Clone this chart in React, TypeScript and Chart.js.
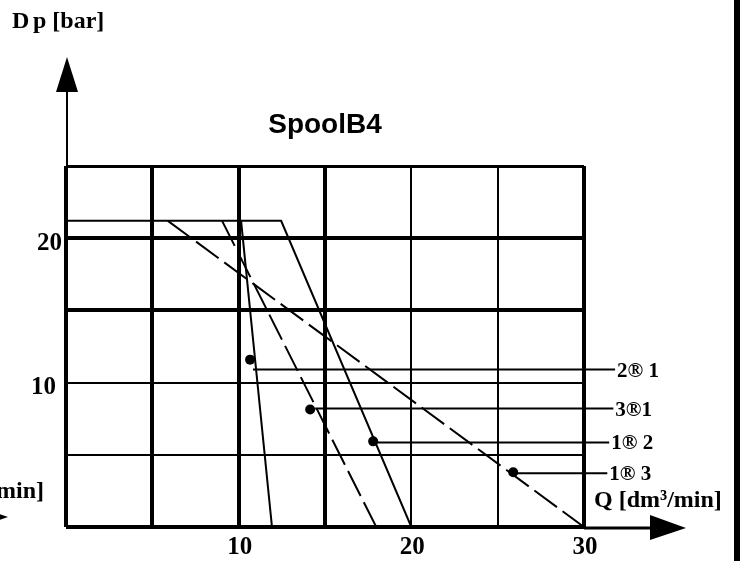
import React, { useEffect, useRef } from "react";
import { Chart, registerables } from "chart.js";

Chart.register(...registerables);

// ---- data (Q in dm3/min, Dp in bar) ----
const curve12X = [0, 12.46, 20];
const curve12Y = [21.2, 21.2, 0];
const curve21X = [10.14, 11.93];
const curve21Y = [21.2, 0];
const curve31X = [9.04, 17.97];
const curve31Y = [21.2, 0];
const curve13X = [5.9, 30];
const curve13Y = [21.2, 0];

const dotX = [10.66, 14.14, 17.79, 25.9];
const dotY = [11.59, 8.14, 5.93, 3.79];

const leaderStartX = [10.83, 14.43, 17.9, 26.0];
const leaderEndX = [31.8, 31.7, 31.46, 31.35];
const leaderY = [10.9, 8.2, 5.86, 3.72];
const leaderLabels = ["2\u00AE 1", "3\u00AE1", "1\u00AE 2", "1\u00AE 3"];

const xTickValues = [10, 20, 30];
const yTickValues = [10, 20];

const xGridWidths: Record<number, number> = { 0: 4, 5: 4, 10: 4, 15: 4, 20: 2, 25: 2, 30: 4 };
const yGridWidths: Record<number, number> = { 0: 4, 5: 2, 10: 2, 15: 4, 20: 4, 25: 3 };

const pts = (xs: number[], ys: number[]) => xs.map((x, i) => ({ x, y: ys[i] }));

const serif = "'Liberation Serif', 'Times New Roman', serif";

const overlayPlugin = {
  id: "overlay",
  afterDraw(chart: any) {
    const ctx = chart.ctx as CanvasRenderingContext2D;
    const xs = chart.scales.x;
    const ys = chart.scales.y;
    const x0 = xs.getPixelForValue(0);
    const x30 = xs.getPixelForValue(30);
    const y0 = ys.getPixelForValue(0);
    const yTop = ys.getPixelForValue(25);
    ctx.save();
    ctx.fillStyle = "#000";
    ctx.strokeStyle = "#000";

    // y axis extension + arrow
    ctx.lineWidth = 2;
    ctx.beginPath();
    ctx.moveTo(x0 + 1, yTop);
    ctx.lineTo(x0 + 1, yTop - 76);
    ctx.stroke();
    ctx.beginPath();
    ctx.moveTo(x0 + 1, yTop - 109);
    ctx.lineTo(x0 - 10, yTop - 74);
    ctx.lineTo(x0 + 12, yTop - 74);
    ctx.closePath();
    ctx.fill();

    // x axis extension + arrow
    ctx.lineWidth = 3;
    ctx.beginPath();
    ctx.moveTo(x30, y0 + 1);
    ctx.lineTo(x30 + 70, y0 + 1);
    ctx.stroke();
    ctx.beginPath();
    ctx.moveTo(x30 + 102, y0 + 1);
    ctx.lineTo(x30 + 66, y0 - 12);
    ctx.lineTo(x30 + 66, y0 + 13);
    ctx.closePath();
    ctx.fill();

    // fragment of neighbouring figure on the left
    ctx.beginPath();
    ctx.moveTo(8, y0 - 10);
    ctx.lineTo(-6, y0 - 15);
    ctx.lineTo(-6, y0 - 5);
    ctx.closePath();
    ctx.fill();

    // title
    ctx.font = "bold 28px 'Liberation Sans', Arial, sans-serif";
    ctx.textAlign = "center";
    ctx.textBaseline = "alphabetic";
    ctx.fillText("SpoolB4", (x0 + x30) / 2, 133);

    // axis titles
    ctx.font = `bold 24px ${serif}`;
    ctx.textAlign = "left";
    ctx.fillText("D", 12, 28);
    ctx.fillText("p [bar]", 33, 28);
    ctx.fillText("Q [dm\u00B3/min]", 594, 507);
    ctx.textAlign = "right";
    ctx.fillText("min]", 44, 498);

    // tick labels
    ctx.font = `bold 25px ${serif}`;
    ctx.textAlign = "center";
    xTickValues.forEach((v) => {
      ctx.fillText(String(v), xs.getPixelForValue(v) + 1, 554);
    });
    ctx.textAlign = "right";
    yTickValues.forEach((v) => {
      const off = v === 20 ? 4 : 10;
      const dy = v === 20 ? 12 : 11;
      ctx.fillText(String(v), x0 - off, ys.getPixelForValue(v) + dy);
    });

    // leader labels
    ctx.font = `bold 21px ${serif}`;
    ctx.textAlign = "left";
    leaderLabels.forEach((t, i) => {
      ctx.fillText(t, xs.getPixelForValue(leaderEndX[i]) + 2, ys.getPixelForValue(leaderY[i]) + 7);
    });

    // right border bar
    ctx.fillRect(734, 0, 6, chart.height);
    ctx.restore();
  },
};

export default function App() {
  const ref = useRef<HTMLCanvasElement | null>(null);
  useEffect(() => {
    if (!ref.current) return;
    const lineDs = (data: any[], dashed: boolean) => ({
      data,
      showLine: true,
      borderColor: "#000",
      borderWidth: 2,
      borderDash: dashed ? [28, 7] : [],
      pointRadius: 0,
      fill: false,
      tension: 0,
    });
    const leaders = leaderLabels.map((_, i) => ({
      data: [
        { x: leaderStartX[i], y: leaderY[i] },
        { x: leaderEndX[i], y: leaderY[i] },
      ],
      showLine: true,
      borderColor: "#000",
      borderWidth: 2,
      pointRadius: 0,
      clip: false as any,
    }));
    const chart = new Chart(ref.current, {
      type: "scatter",
      data: {
        datasets: [
          lineDs(pts(curve12X, curve12Y), false),
          lineDs(pts(curve21X, curve21Y), false),
          lineDs(pts(curve31X, curve31Y), true),
          lineDs(pts(curve13X, curve13Y), true),
          ...leaders,
          {
            data: pts(dotX, dotY),
            showLine: false,
            pointRadius: 5,
            pointBackgroundColor: "#000",
            pointBorderColor: "#000",
            pointBorderWidth: 0,
          },
        ] as any,
      },
      options: {
        animation: false,
        responsive: false,
        devicePixelRatio: 1,
        layout: { padding: { left: 66, right: 157, top: 166, bottom: 34 } },
        plugins: { legend: { display: false }, tooltip: { enabled: false }, title: { display: false } },
        scales: {
          x: {
            type: "linear",
            min: 0,
            max: 30,
            ticks: { stepSize: 5, display: false },
            grid: {
              color: "#000",
              drawTicks: false,
              lineWidth: (c: any) => xGridWidths[c.tick?.value] ?? 2,
            },
            border: { display: false },
          },
          y: {
            type: "linear",
            min: 0,
            max: 25,
            ticks: { stepSize: 5, display: false },
            grid: {
              color: "#000",
              drawTicks: false,
              lineWidth: (c: any) => yGridWidths[c.tick?.value] ?? 2,
            },
            border: { display: false },
          },
        },
      },
      plugins: [overlayPlugin],
    });
    return () => chart.destroy();
  }, []);
  return (
    <div style={{ position: "absolute", left: 0, top: 0, width: 741, height: 561, background: "#fff" }}>
      <canvas ref={ref} width={741} height={561} style={{ display: "block" }} />
    </div>
  );
}
